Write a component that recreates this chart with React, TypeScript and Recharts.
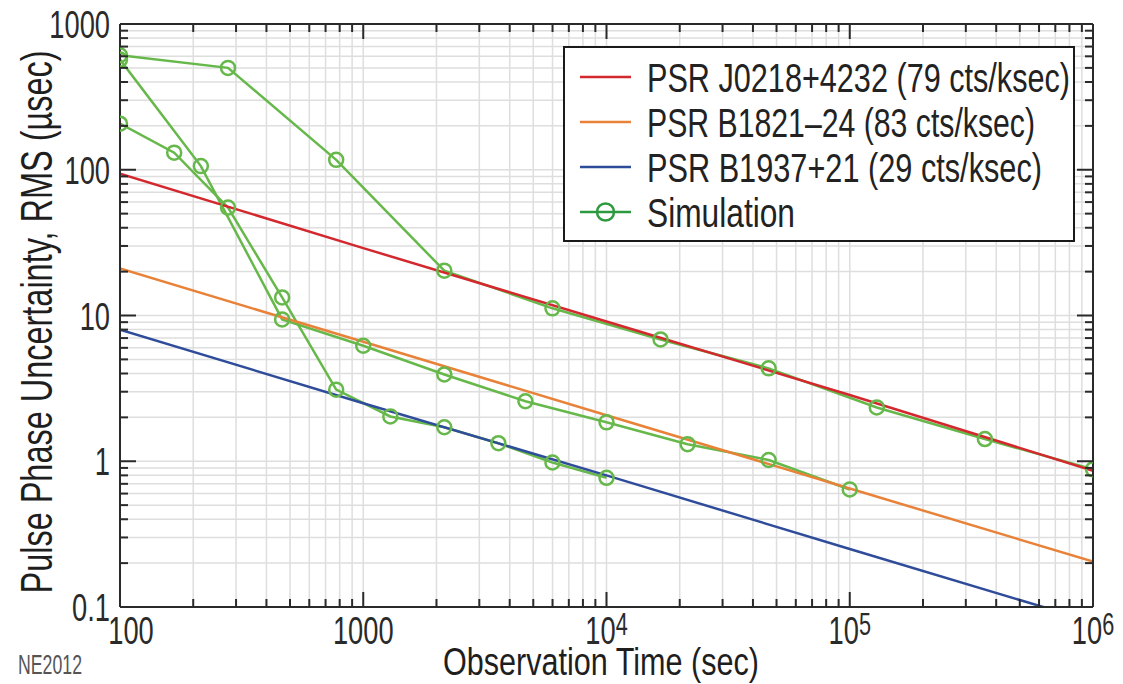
import { LineChart, Line, XAxis, YAxis, CartesianGrid, Legend, Label } from "recharts";

// no condensed face installed, so texts get squeezed horizontally
const FONT = "'Liberation Sans', Arial, sans-serif";
const SQUEEZE = 0.7;
const TEXT_SQUEEZE = 0.76;

const RED = "#d3282e";
const ORANGE = "#e98239";
const BLUE = "#2f4c9b";
const SIM_GREEN = "#66b84a";
const LEGEND_GREEN = "#2d9a3f";
const INK = "#2a2a2a";

// axis decades + minor steps
const xDecades = [100, 1000, 10000, 100000, 1000000];
const yDecades = [0.1, 1, 10, 100, 1000];
const minorSteps = [2, 3, 4, 5, 6, 7, 8, 9];
const xBaseLabels = ["100", "1000", "10", "10", "10"];
const xExpLabels = ["", "", "4", "5", "6"];
const yLabels = ["0.1", "1", "10", "100", "1000"];

// model curves (read at each decade)
const modelTimes = [100, 1000, 10000, 100000, 1000000];
const j0218Model = [94, 29, 9.1, 2.85, 0.86];
const b1821Model = [21, 6.6, 2.07, 0.65, 0.205];
const b1937Model = [8, 2.5, 0.8, 0.25, 0.079];

// simulation points
const j0218SimTimes = [100, 278, 774, 2154, 5995, 16681, 46416, 129155, 359381, 1000000];
const j0218Sim = [610, 500, 117, 20.3, 11.2, 6.85, 4.34, 2.34, 1.42, 0.88];
const b1821SimTimes = [100, 215, 464, 1000, 2154, 4642, 10000, 21544, 46416, 100000];
const b1821Sim = [570, 106, 9.4, 6.2, 3.94, 2.58, 1.85, 1.31, 1.02, 0.64];
const b1937SimTimes = [100, 167, 278, 464, 774, 1292, 2154, 3594, 5995, 10000];
const b1937Sim = [207, 131, 55, 13.3, 3.1, 2.03, 1.71, 1.33, 0.98, 0.77];

const legendItems = [
  { name: "PSR J0218+4232 (79 cts/ksec)", color: RED, marker: false, width: 423 },
  { name: "PSR B1821–24 (83 cts/ksec)", color: ORANGE, marker: false, width: 388 },
  { name: "PSR B1937+21 (29 cts/ksec)", color: BLUE, marker: false, width: 395 },
  { name: "Simulation", color: LEGEND_GREEN, marker: true, width: 148 },
];

const pairs = (xs: number[], ys: number[]) => xs.map((x, i) => ({ x, y: ys[i] }));

function logTicks(decades: number[]) {
  const out: number[] = [];
  decades.forEach((d, i) => {
    out.push(d);
    if (i < decades.length - 1) minorSteps.forEach((m) => out.push(+(d * m).toPrecision(6)));
  });
  return out;
}

const xTicks = logTicks(xDecades);
const yTicks = logTicks(yDecades);

const decadeIndex = (list: number[], v: number) =>
  list.findIndex((d) => Math.abs(d - v) / d < 1e-6);

// squeezed text with an exact final width
function NarrowText({ x, y, width, fontSize, fill, anchor = "start", rotate = 0, children }: any) {
  return (
    <text
      transform={`translate(${x} ${y}) rotate(${rotate}) scale(${TEXT_SQUEEZE} 1)`}
      textAnchor={anchor}
      fontSize={fontSize}
      fill={fill}
      fontFamily={FONT}
      textLength={width / TEXT_SQUEEZE}
      lengthAdjust="spacingAndGlyphs"
    >
      {children}
    </text>
  );
}

function BottomTick({ x, y, payload }: any) {
  const idx = decadeIndex(xDecades, payload.value);
  const major = idx >= 0;
  return (
    <g>
      <line x1={x} y1={y} x2={x} y2={y - (major ? 15 : 8)} stroke={INK} strokeWidth={2} />
      {major && (
        <text
          transform={`translate(${x + (idx === 0 ? 11 : 0)} ${y + 37}) scale(${SQUEEZE} 1)`}
          textAnchor="middle"
          fontSize={39}
          fill={INK}
          fontFamily={FONT}
        >
          {xBaseLabels[idx]}
          {xExpLabels[idx] && (
            <tspan dy={-9} fontSize={31}>
              {xExpLabels[idx]}
            </tspan>
          )}
        </text>
      )}
    </g>
  );
}

function TopTick({ x, y, payload }: any) {
  const major = decadeIndex(xDecades, payload.value) >= 0;
  return <line x1={x} y1={y} x2={x} y2={y + (major ? 15 : 8)} stroke={INK} strokeWidth={2} />;
}

function LeftTick({ x, y, payload }: any) {
  const idx = decadeIndex(yDecades, payload.value);
  const major = idx >= 0;
  return (
    <g>
      <line x1={x} y1={y} x2={x + (major ? 16 : 8)} y2={y} stroke={INK} strokeWidth={2} />
      {major && (
        <text
          transform={`translate(${x - 10} ${y + 14}) scale(${SQUEEZE} 1)`}
          textAnchor="end"
          fontSize={39}
          fill={INK}
          fontFamily={FONT}
        >
          {yLabels[idx]}
        </text>
      )}
    </g>
  );
}

function RightTick({ x, y, payload }: any) {
  const major = decadeIndex(yDecades, payload.value) >= 0;
  return <line x1={x} y1={y} x2={x - (major ? 16 : 8)} y2={y} stroke={INK} strokeWidth={2} />;
}

function LegendBox() {
  return (
    <div style={{ width: 508, height: 192, border: "2px solid #1a1a1a", background: "#fff" }}>
      <svg width={508} height={192} style={{ display: "block" }}>
        {legendItems.map((item, i) => {
          const cy = 29 + i * 45;
          return (
            <g key={item.name}>
              <line x1={15} y1={cy} x2={66} y2={cy} stroke={item.color} strokeWidth={2.5} />
              {item.marker && (
                <circle cx={40.5} cy={cy} r={8.5} fill="none" stroke={item.color} strokeWidth={2.5} />
              )}
              <NarrowText x={82} y={cy + 15} width={item.width} fontSize={40} fill="#222">
                {item.name}
              </NarrowText>
            </g>
          );
        })}
      </svg>
    </div>
  );
}

const axisLine = { stroke: INK, strokeWidth: 2 };
const simDot = { r: 7, stroke: SIM_GREEN, strokeWidth: 2.5, fill: "none" };

export default function App() {
  return (
    <div
      style={{
        position: "absolute",
        left: 0,
        top: 0,
        width: 1123,
        height: 684,
        background: "#fff",
        overflow: "hidden",
      }}
    >
      <LineChart width={1123} height={684} margin={{ top: 0, right: 0, bottom: 0, left: 0 }}>
        <CartesianGrid stroke="#dedede" strokeWidth={1.5} />
        <XAxis
          dataKey="x"
          type="number"
          scale="log"
          domain={[100, 1000000]}
          allowDataOverflow
          ticks={xTicks}
          interval={0}
          height={77}
          tickSize={0}
          tickMargin={0}
          tickLine={false}
          axisLine={axisLine}
          tick={<BottomTick />}
        >
          <Label
            content={() => (
              <NarrowText x={601} y={675} width={316} fontSize={39} fill="#1e1e1e" anchor="middle">
                Observation Time (sec)
              </NarrowText>
            )}
          />
        </XAxis>
        <XAxis
          xAxisId="top"
          orientation="top"
          dataKey="x"
          type="number"
          scale="log"
          domain={[100, 1000000]}
          allowDataOverflow
          ticks={xTicks}
          interval={0}
          height={24}
          tickSize={0}
          tickMargin={0}
          tickLine={false}
          axisLine={axisLine}
          tick={<TopTick />}
        />
        <YAxis
          type="number"
          scale="log"
          domain={[0.1, 1000]}
          allowDataOverflow
          ticks={yTicks}
          interval={0}
          width={120}
          tickSize={0}
          tickMargin={0}
          tickLine={false}
          axisLine={axisLine}
          tick={<LeftTick />}
        >
          <Label
            content={() => (
              <NarrowText
                x={52}
                y={322}
                rotate={-90}
                width={543}
                fontSize={45}
                fill="#1e1e1e"
                anchor="middle"
              >
                Pulse Phase Uncertainty, RMS (µsec)
              </NarrowText>
            )}
          />
        </YAxis>
        <YAxis
          yAxisId="right"
          orientation="right"
          type="number"
          scale="log"
          domain={[0.1, 1000]}
          allowDataOverflow
          ticks={yTicks}
          interval={0}
          width={30}
          tickSize={0}
          tickMargin={0}
          tickLine={false}
          axisLine={axisLine}
          tick={<RightTick />}
        />

        <Line
          data={pairs(j0218SimTimes, j0218Sim)}
          dataKey="y"
          stroke={SIM_GREEN}
          strokeWidth={2.5}
          dot={simDot}
          isAnimationActive={false}
          legendType="none"
        />
        <Line
          data={pairs(b1821SimTimes, b1821Sim)}
          dataKey="y"
          stroke={SIM_GREEN}
          strokeWidth={2.5}
          dot={simDot}
          isAnimationActive={false}
          legendType="none"
        />
        <Line
          data={pairs(b1937SimTimes, b1937Sim)}
          dataKey="y"
          stroke={SIM_GREEN}
          strokeWidth={2.5}
          dot={simDot}
          isAnimationActive={false}
          legendType="none"
        />
        <Line
          data={pairs(modelTimes, j0218Model)}
          dataKey="y"
          stroke={RED}
          strokeWidth={2.5}
          dot={false}
          isAnimationActive={false}
        />
        <Line
          data={pairs(modelTimes, b1821Model)}
          dataKey="y"
          stroke={ORANGE}
          strokeWidth={2.5}
          dot={false}
          isAnimationActive={false}
        />
        <Line
          data={pairs(modelTimes, b1937Model)}
          dataKey="y"
          stroke={BLUE}
          strokeWidth={2.5}
          dot={false}
          isAnimationActive={false}
        />

        <Legend
          layout="vertical"
          align="center"
          verticalAlign="middle"
          content={() => <LegendBox />}
          wrapperStyle={{ left: 563, top: 46, width: 512, height: 196 }}
        />
      </LineChart>
      <svg width={120} height={40} style={{ position: "absolute", left: 0, top: 644 }}>
        <NarrowText x={18} y={30} width={64} fontSize={27} fill="#555">
          NE2012
        </NarrowText>
      </svg>
    </div>
  );
}
